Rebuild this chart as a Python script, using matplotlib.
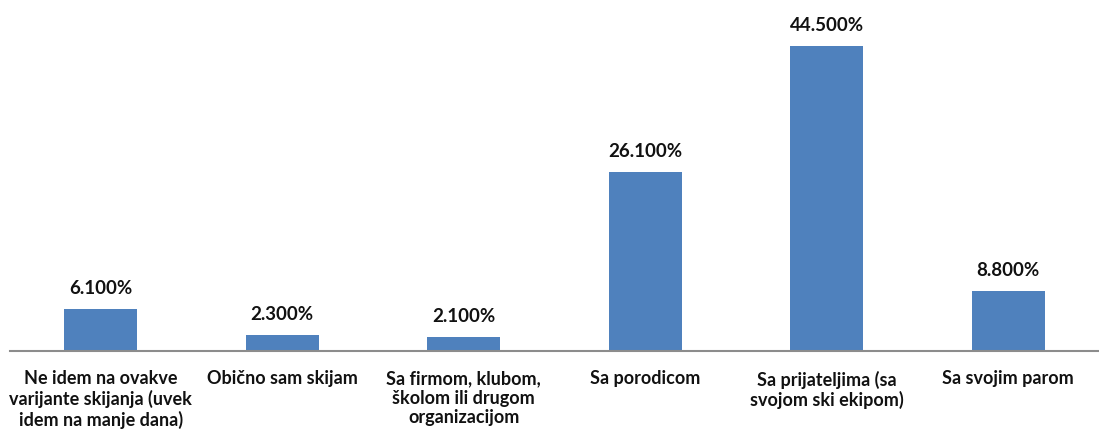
import matplotlib
matplotlib.use("Agg")
import matplotlib.pyplot as plt

# categories and values
categories = [
    "Ne idem na ovakve\nvarijante skijanja (uvek\nidem na manje dana)",
    "Obično sam skijam",
    "Sa firmom, klubom,\nškolom ili drugom\norganizacijom",
    "Sa porodicom",
    "Sa prijateljima (sa\nsvojom ski ekipom)",
    "Sa svojim parom",
]
values = [6.1, 2.3, 2.1, 26.1, 44.5, 8.8]
value_labels = ["6.100%", "2.300%", "2.100%", "26.100%", "44.500%", "8.800%"]

plt.rcParams['font.family'] = ['Lato', 'DejaVu Sans']

fig = plt.figure(figsize=(10.99, 4.29), dpi=100)
ax = fig.add_axes([10 / 1099, 1 - 351 / 429, 1089 / 1099, 342.7 / 429])

x = list(range(len(values)))
bars = ax.bar(x, values, width=0.4, color="#4F81BD", zorder=2)

for xi, v, lab in zip(x, values, value_labels):
    ax.annotate(lab, (xi, v), xytext=(0, 8.5), textcoords="offset points",
                ha="center", va="bottom", fontsize=13.5, fontweight="bold",
                color="#111111")

ax.set_xlim(-0.5, len(values) - 0.5)
ax.set_ylim(0, 50)
ax.set_xticks(x)
ax.set_xticklabels(categories, fontsize=13, fontweight="bold",
                   va="top", linespacing=1.18, color="#111111")
ax.tick_params(axis="x", length=0, pad=14)
ax.set_yticks([])

for side in ["top", "right", "left"]:
    ax.spines[side].set_visible(False)
ax.spines["bottom"].set_color("#8c8c8c")
ax.spines["bottom"].set_linewidth(1.5)

fig.savefig("out.png", dpi=100)
